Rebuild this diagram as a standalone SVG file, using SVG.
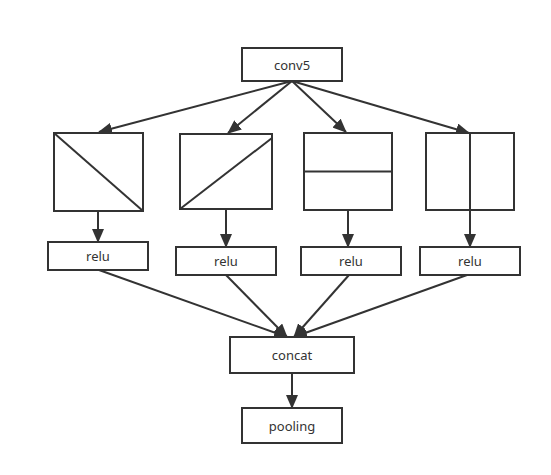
<svg xmlns="http://www.w3.org/2000/svg" width="551" height="475" viewBox="0 0 551 475">
<style>
.b{fill:#fff;stroke:#333;stroke-width:2}
.l{fill:none;stroke:#333;stroke-width:2}
.c{fill:none;stroke:#333;stroke-width:2;marker-end:url(#a)}
text{font-family:"Noto Sans","Open Sans","DejaVu Sans",sans-serif;font-size:13px;fill:#333;text-anchor:middle;dominant-baseline:central}
</style>
<defs>
<marker id="a" markerUnits="userSpaceOnUse" markerWidth="14" markerHeight="12" viewBox="0 0 14 12" refX="13" refY="6" orient="auto">
<path d="M0,0 L14,6 L0,12 z" fill="#333"/>
</marker>
</defs>
<rect width="551" height="475" fill="#fff"/>
<g id="connectors">
<line class="c" x1="292" y1="81" x2="99" y2="132"/>
<line class="c" x1="292" y1="81" x2="228" y2="133"/>
<line class="c" x1="292" y1="81" x2="346" y2="132"/>
<line class="c" x1="292" y1="81" x2="469" y2="133"/>
<line class="c" x1="98" y1="211" x2="98" y2="242"/>
<line class="c" x1="226" y1="209" x2="226" y2="247"/>
<line class="c" x1="348" y1="210" x2="348" y2="247"/>
<line class="c" x1="470" y1="210" x2="470" y2="247"/>
<line class="c" x1="99" y1="270" x2="287" y2="337"/>
<line class="c" x1="226" y1="275" x2="287" y2="337"/>
<line class="c" x1="349" y1="275" x2="294" y2="337"/>
<line class="c" x1="467" y1="275" x2="294" y2="337"/>
<line class="c" x1="292" y1="373" x2="292" y2="408"/>
</g>
<g id="conv5"><rect class="b" x="242" y="48" width="100" height="33"/><text x="292" y="64.5">conv5</text></g>
<g id="box1"><rect class="b" x="54" y="133" width="89" height="78"/><line class="l" x1="54" y1="133" x2="143" y2="211"/></g>
<g id="box2"><rect class="b" x="180" y="134" width="92" height="75"/><line class="l" x1="180" y1="209" x2="272" y2="138"/></g>
<g id="box3"><rect class="b" x="304" y="133" width="88" height="77"/><line class="l" x1="304" y1="171.5" x2="392" y2="171.5"/></g>
<g id="box4"><rect class="b" x="426" y="133" width="88" height="77"/><line class="l" x1="470" y1="133" x2="470" y2="210"/></g>
<g id="relu1"><rect class="b" x="48" y="242" width="100" height="28"/><text x="98" y="256">relu</text></g>
<g id="relu2"><rect class="b" x="176" y="247" width="100" height="28"/><text x="226" y="261">relu</text></g>
<g id="relu3"><rect class="b" x="301" y="247" width="100" height="28"/><text x="351" y="261">relu</text></g>
<g id="relu4"><rect class="b" x="420" y="247" width="100" height="28"/><text x="470" y="261">relu</text></g>
<g id="concat"><rect class="b" x="230" y="337" width="124" height="36"/><text x="292" y="355">concat</text></g>
<g id="pooling"><rect class="b" x="242" y="408" width="100" height="35"/><text x="292" y="425.5">pooling</text></g>
</svg>
